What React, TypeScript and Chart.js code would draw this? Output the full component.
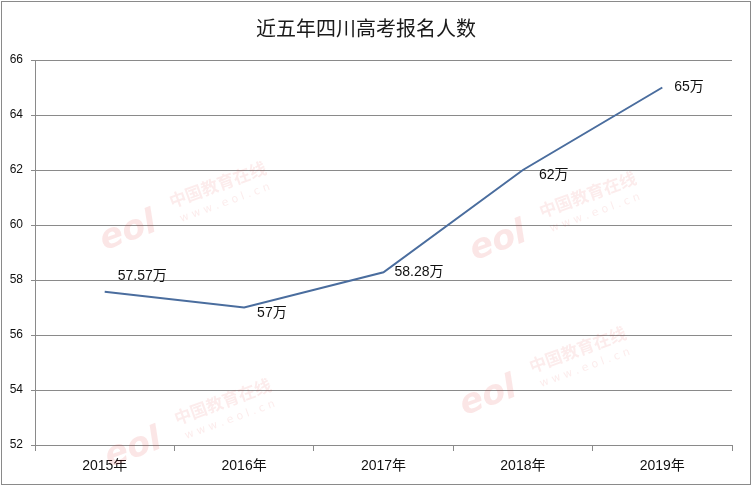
import { useEffect, useRef } from "react";
import { Chart, registerables } from "chart.js";

Chart.register(...registerables);

const categories = ["2015年", "2016年", "2017年", "2018年", "2019年"];
const applicants = [57.57, 57, 58.28, 62, 65];
const valueLabels = ["57.57万", "57万", "58.28万", "62万", "65万"];
const yTicks = [52, 54, 56, 58, 60, 62, 64, 66];
const titleText = "近五年四川高考报名人数";

// label offsets relative to the point (dx to text left, dy to text middle)
const labelOffsets = [
  [13, -16],
  [13, 6],
  [11, 0],
  [16, 5],
  [12, 0],
];

const watermarkSpots = [
  [120, 235],
  [490, 245],
  [480, 400],
  [125, 452],
];

const framePlugin = {
  id: "frame",
  afterDraw(chart: any) {
    const ctx = chart.ctx;
    ctx.save();
    ctx.strokeStyle = "#8a8a8a";
    ctx.lineWidth = 1;
    ctx.strokeRect(1.5, 1.5, chart.width - 3, chart.height - 3);
    ctx.restore();
  },
};

const watermarkPlugin = {
  id: "watermark",
  beforeDatasetsDraw(chart: any) {
    const ctx = chart.ctx;
    ctx.save();
    for (const [x, y] of watermarkSpots) {
      ctx.save();
      ctx.translate(x, y);
      ctx.rotate(-0.35);
      ctx.globalAlpha = 0.12;
      ctx.fillStyle = "#e03030";
      ctx.font = "italic bold 34px 'DejaVu Sans'";
      ctx.textBaseline = "middle";
      ctx.fillText("eol", -20, 0);
      ctx.globalAlpha = 0.09;
      ctx.font = "bold 17px 'Noto Sans CJK SC'";
      ctx.fillText("中国教育在线", 58, -14);
      ctx.font = "11px 'DejaVu Sans'";
      ctx.fillText("w w w . e o l . c n", 62, 6);
      ctx.restore();
    }
    ctx.restore();
  },
};

const labelPlugin = {
  id: "valueLabels",
  afterDatasetsDraw(chart: any) {
    const ctx = chart.ctx;
    const meta = chart.getDatasetMeta(0);
    ctx.save();
    ctx.fillStyle = "#111";
    ctx.font = "14px 'Liberation Sans', 'Noto Sans CJK SC'";
    ctx.textAlign = "left";
    ctx.textBaseline = "middle";
    meta.data.forEach((pt: any, i: number) => {
      const [dx, dy] = labelOffsets[i];
      ctx.fillText(valueLabels[i], pt.x + dx, pt.y + dy);
    });
    ctx.restore();
  },
};

export default function App() {
  const ref = useRef<HTMLCanvasElement>(null);
  useEffect(() => {
    document.body.style.margin = "0";
    const chart = new Chart(ref.current!, {
      type: "line",
      data: {
        labels: categories,
        datasets: [
          {
            data: applicants,
            borderColor: "#4a6d9e",
            borderWidth: 2,
            pointRadius: 0,
            tension: 0,
            fill: false,
          },
        ],
      },
      options: {
        responsive: false,
        animation: false,
        layout: { padding: { left: 0, right: 20, top: 0, bottom: 0 } },
        plugins: {
          legend: { display: false },
          tooltip: { enabled: false },
          title: {
            display: true,
            text: titleText,
            color: "#1a1a1a",
            font: { size: 20, family: "'Noto Sans CJK SC'", weight: "normal", lineHeight: 1.2 },
            padding: { top: 16, bottom: 20 },
          },
        },
        scales: {
          x: {
            type: "category",
            offset: true,
            grid: {
              offset: true,
              drawOnChartArea: false,
              drawTicks: true,
              tickLength: 6,
              color: "#8a8a8a",
            },
            border: { color: "#8a8a8a", width: 1 },
            ticks: {
              color: "#111",
              padding: 7,
              font: { size: 14, family: "'Liberation Sans', 'Noto Sans CJK SC'" },
              maxRotation: 0,
            },
            afterFit: (s: any) => {
              s.height = 41;
            },
          },
          y: {
            min: 52,
            max: 66,
            afterBuildTicks: (s: any) => {
              s.ticks = yTicks.map((v) => ({ value: v }));
            },
            grid: {
              color: "#8a8a8a",
              tickLength: 4,
              drawTicks: true,
            },
            border: { color: "#8a8a8a", width: 1 },
            ticks: {
              color: "#111",
              padding: 8,
              font: { size: 12, family: "'Liberation Sans'" },
            },
            afterFit: (s: any) => {
              s.width = 35;
            },
          },
        },
      },
      plugins: [watermarkPlugin, labelPlugin, framePlugin],
    });
    return () => chart.destroy();
  }, []);
  return <canvas ref={ref} width={752} height={486} style={{ display: "block" }} />;
}
